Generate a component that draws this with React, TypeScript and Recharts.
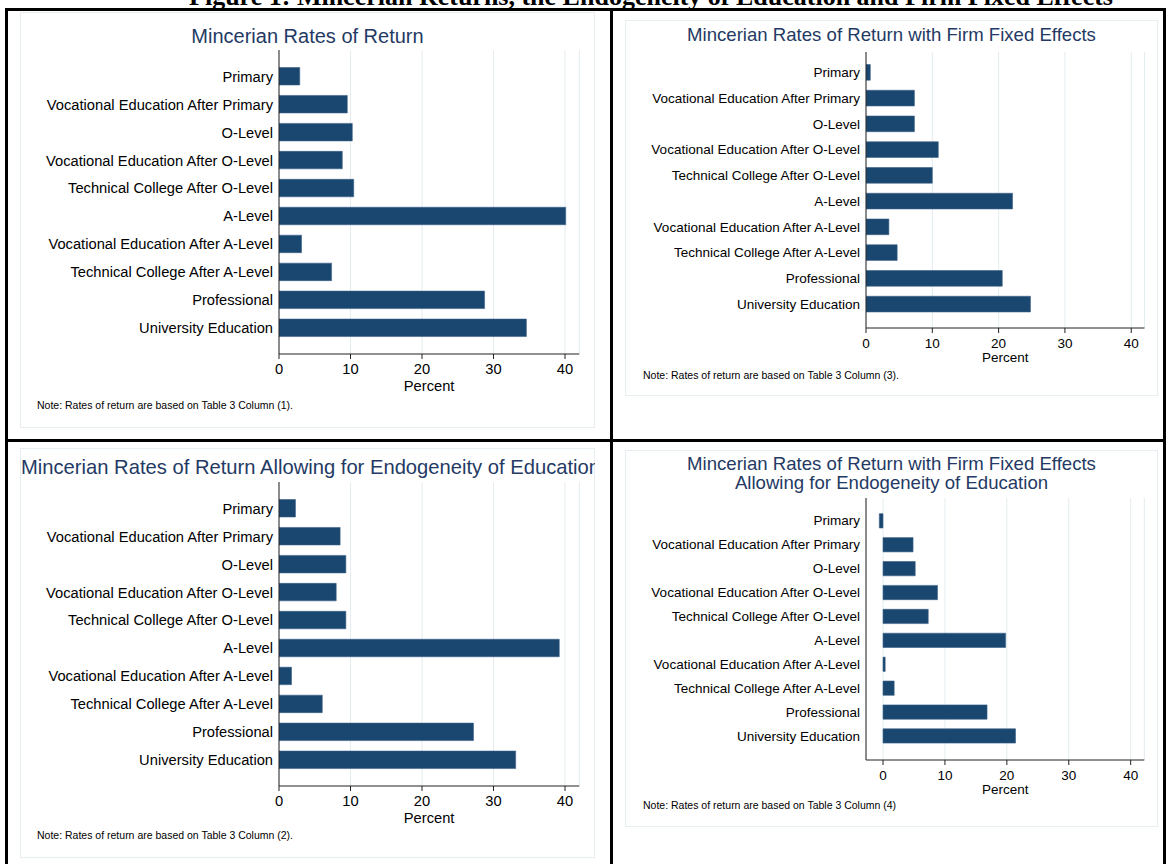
import React from 'react';
import { BarChart, Bar, XAxis, YAxis, CartesianGrid } from 'recharts';

// ─── Data ───────────────────────────────────────────────────────────────────

const categories = [
  'Primary',
  'Vocational Education After Primary',
  'O-Level',
  'Vocational Education After O-Level',
  'Technical College After O-Level',
  'A-Level',
  'Vocational Education After A-Level',
  'Technical College After A-Level',
  'Professional',
  'University Education',
];

// Table 3 columns (1)-(4), percent
const col1 = [2.9, 9.55, 10.25, 8.85, 10.45, 40.1, 3.15, 7.35, 28.75, 34.6];
const col2 = [2.3, 8.55, 9.35, 8.0, 9.35, 39.2, 1.75, 6.05, 27.2, 33.1];
const col3 = [0.65, 7.3, 7.3, 10.9, 10.0, 22.1, 3.45, 4.7, 20.55, 24.8];
const col4 = [-0.6, 4.85, 5.2, 8.8, 7.3, 19.8, 0.35, 1.8, 16.8, 21.4];

const xTicks = [0, 10, 20, 30, 40];

// ─── Styles ─────────────────────────────────────────────────────────────────

const BAR = '#1a476f';
const TITLE = '#243a64';
const GRID = '#e3ecef';
const AXIS = '#222';
const FONT = '"Liberation Sans", Arial, sans-serif';

interface Box { x: number; y: number; w: number; h: number }

interface PanelProps {
  box: Box;
  values: number[];
  domain: [number, number];
  axisX: number;      // page x of y axis
  axisRight: number;  // page x where x axis ends
  axisTop: number;    // page y where y axis starts
  axisBottom: number; // page y of x axis
  padTop: number;
  padBottom: number;
  barSize: number;
  labelFont: number;
  titleLines: string[];
  titleFont: number;
  titleY: number[];
  titleLeft?: number; // left-aligned title (clipped by the box) when set
  percentY: number;
  note: string;
  noteY: number;
  noteX: number;
}

function Panel(p: PanelProps) {
  const data = categories.map((name, i) => ({ name, value: p.values[i] }));
  const xAxisH = 30;
  const plotBottom = p.axisBottom - p.box.y;
  const margin = {
    top: p.axisTop - p.box.y,
    right: p.box.x + p.box.w - p.axisRight,
    left: 0,
    bottom: p.box.h - plotBottom - xAxisH,
  };
  const text = (cy: number, fs: number): React.CSSProperties => ({
    position: 'absolute',
    top: cy - p.box.y - fs / 2,
    lineHeight: `${fs}px`,
    fontSize: fs,
    fontFamily: FONT,
    whiteSpace: 'nowrap',
  });
  const plotCenter = (p.axisX + p.axisRight) / 2 - p.box.x;

  return (
    <div
      style={{
        position: 'absolute', left: p.box.x, top: p.box.y, width: p.box.w, height: p.box.h,
        overflow: 'hidden', background: '#fff', boxShadow: 'inset 0 0 0 1px #e6eef1',
      }}
    >
      {p.titleLines.map((t, i) =>
        p.titleLeft !== undefined ? (
          <div key={t} style={{ ...text(p.titleY[i], p.titleFont), left: p.titleLeft - p.box.x, color: TITLE }}>
            {t}
          </div>
        ) : (
          <div key={t} style={{ ...text(p.titleY[i], p.titleFont), left: 0, width: p.box.w, textAlign: 'center', color: TITLE }}>
            {t}
          </div>
        ),
      )}
      <div style={{ position: 'absolute', left: 0, top: 0 }}>
        <BarChart
          width={p.box.w}
          height={p.box.h}
          data={data}
          layout="vertical"
          margin={margin}
          barSize={p.barSize}
        >
          <CartesianGrid horizontal={false} vertical stroke={GRID} strokeWidth={1} />
          <XAxis
            type="number"
            domain={p.domain}
            ticks={xTicks}
            allowDataOverflow
            height={xAxisH}
            tickSize={5}
            tickMargin={5}
            stroke={AXIS}
            tick={{ fontSize: p.labelFont, fill: '#000', fontFamily: FONT }}
          />
          <YAxis
            type="category"
            dataKey="name"
            width={p.axisX - p.box.x}
            interval={0}
            tickLine={false}
            tickSize={4}
            tickMargin={2}
            stroke={AXIS}
            padding={{ top: p.padTop, bottom: p.padBottom }}
            tick={{ fontSize: p.labelFont, fill: '#000', fontFamily: FONT }}
          />
          <Bar dataKey="value" fill={BAR} stroke="#3d6288" strokeWidth={0.6} isAnimationActive={false} />
        </BarChart>
      </div>
      <div style={{ ...text(p.percentY, p.labelFont), left: plotCenter - 60, width: 120, textAlign: 'center', color: '#000' }}>
        Percent
      </div>
      <div style={{ ...text(p.noteY, 10.5), left: p.noteX - p.box.x, color: '#000' }}>{p.note}</div>
    </div>
  );
}

export default function App() {
  const line = (s: React.CSSProperties) => <div style={{ position: 'absolute', background: '#000', ...s }} />;
  return (
    <div style={{ position: 'absolute', left: 0, top: 0, width: 1166, height: 864, background: '#fff', overflow: 'hidden' }}>
      <div
        style={{
          position: 'absolute', left: 651 - 600, top: -16, width: 1200, textAlign: 'center',
          fontFamily: '"Liberation Serif", "Times New Roman", serif', fontWeight: 'bold', fontSize: 26, lineHeight: '26px',
          whiteSpace: 'nowrap',
        }}
      >
        Figure 1: Mincerian Returns, the Endogeneity of Education and Firm Fixed Effects
      </div>

      <Panel
        box={{ x: 20, y: 12, w: 575, h: 416 }}
        values={col1}
        domain={[0, 42]}
        axisX={279}
        axisRight={579.3}
        axisTop={50}
        axisBottom={354}
        padTop={12.5}
        padBottom={12}
        barSize={17.5}
        labelFont={14.7}
        titleLines={['Mincerian Rates of Return']}
        titleFont={20}
        titleY={[36]}
        percentY={386}
        note="Note: Rates of return are based on Table 3 Column (1)."
        noteY={405}
        noteX={37}
      />
      <Panel
        box={{ x: 625, y: 20, w: 533, h: 376 }}
        values={col3}
        domain={[0, 42]}
        axisX={866}
        axisRight={1144.5}
        axisTop={52}
        axisBottom={328}
        padTop={7.5}
        padBottom={11}
        barSize={15.7}
        labelFont={13.5}
        titleLines={['Mincerian Rates of Return with Firm Fixed Effects']}
        titleFont={18.6}
        titleY={[35]}
        percentY={358}
        note="Note: Rates of return are based on Table 3 Column (3)."
        noteY={375}
        noteX={643}
      />
      <Panel
        box={{ x: 20, y: 448, w: 575, h: 410 }}
        values={col2}
        domain={[0, 42]}
        axisX={279}
        axisRight={579.3}
        axisTop={482}
        axisBottom={786}
        padTop={12.5}
        padBottom={12}
        barSize={17.5}
        labelFont={14.7}
        titleLines={['Mincerian Rates of Return Allowing for Endogeneity of Education']}
        titleFont={20.2}
        titleY={[467]}
        titleLeft={21}
        percentY={818}
        note="Note: Rates of return are based on Table 3 Column (2)."
        noteY={835}
        noteX={37}
      />
      <Panel
        box={{ x: 625, y: 450, w: 533, h: 377 }}
        values={col4}
        domain={[-2.75, 42.2]}
        axisX={866}
        axisRight={1144.3}
        axisTop={498}
        axisBottom={760}
        padTop={10.7}
        padBottom={12.3}
        barSize={14.3}
        labelFont={13.5}
        titleLines={['Mincerian Rates of Return with Firm Fixed Effects', 'Allowing for Endogeneity of Education']}
        titleFont={18.6}
        titleY={[464.5, 483.5]}
        percentY={790}
        note="Note: Rates of return are based on Table 3 Column (4)"
        noteY={805}
        noteX={643}
      />

      {line({ left: 5, top: 8, width: 1161, height: 3 })}
      {line({ left: 5, top: 8, width: 3, height: 856 })}
      {line({ left: 610, top: 8, width: 3, height: 856 })}
      {line({ left: 1163, top: 8, width: 3, height: 856 })}
      {line({ left: 5, top: 439, width: 1161, height: 3 })}
    </div>
  );
}
